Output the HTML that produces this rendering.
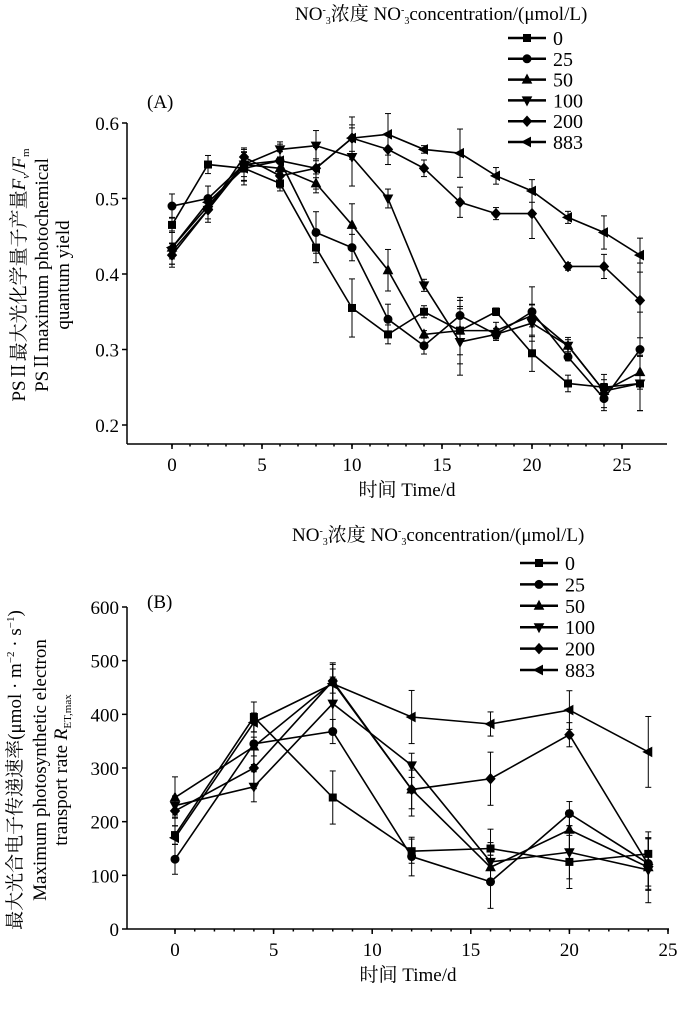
<!DOCTYPE html>
<html><head><meta charset="utf-8"><style>
body{margin:0;background:#fff}
svg text{font-family:"Liberation Serif","Noto Serif CJK SC",serif;fill:#000}
</style></head><body>
<svg id="s" width="700" height="1004" xmlns="http://www.w3.org/2000/svg"></svg>
<script>
// Chart A data
const daysA=[0,2,4,6,8,10,12,14,16,18,20,22,24,26];
const a0=[0.465,0.545,0.54,0.52,0.435,0.355,0.32,0.35,0.325,0.35,0.295,0.255,0.25,0.255];
const a25=[0.49,0.50,0.545,0.55,0.455,0.435,0.34,0.305,0.345,0.32,0.35,0.29,0.235,0.30];
const a50=[0.435,0.49,0.545,0.54,0.52,0.465,0.405,0.32,0.325,0.325,0.345,0.305,0.245,0.27];
const a100=[0.43,0.485,0.545,0.565,0.57,0.555,0.50,0.385,0.31,0.32,0.335,0.305,0.245,0.255];
const a200=[0.425,0.485,0.555,0.53,0.54,0.58,0.565,0.54,0.495,0.48,0.48,0.41,0.41,0.365];
const a883=[0.435,0.495,0.54,0.55,0.54,0.58,0.585,0.565,0.56,0.53,0.51,0.475,0.455,0.425];
const eA=[0.02,0.015,0.02,0.02,0.025,0.035,0.025,0.01,0.04,0.01,0.03,0.01,0.02,0.045];
const ticksAx=[0,5,10,15,20,25];
const ticksAy=[0.2,0.3,0.4,0.5,0.6];
// Chart B data
const daysB=[0,4,8,12,16,20,24];
const b0=[175,395,245,145,150,125,140];
const b25=[130,345,368,135,88,215,122];
const b50=[245,340,460,260,115,185,115];
const b100=[230,265,420,305,125,143,110];
const b200=[220,300,462,260,280,362,120];
const b883=[170,385,457,395,382,408,330];
const eB=[35,35,45,45,45,45,60];
const ticksBx=[0,5,10,15,20,25];
const ticksBy=[0,100,200,300,400,500,600];
const labels=['0','25','50','100','200','883'];
const shapes=['sq','ci','up','dn','di','lt'];

const S=document.getElementById('s');const NS='http://www.w3.org/2000/svg';
function el(t,at,p){const e=document.createElementNS(NS,t);for(const k in at)e.setAttribute(k,at[k]);(p||S).appendChild(e);return e;}
function txt(x,y,s,sz,anc,p){const t=el('text',{x:x,y:y,'font-size':sz,'text-anchor':anc||'start'},p);t.innerHTML=s;return t;}
function marker(g,sh,x,y){
 if(sh==='sq')el('rect',{x:x-3.5,y:y-3.5,width:7,height:7},g);
 else if(sh==='ci')el('circle',{cx:x,cy:y,r:4},g);
 else if(sh==='up')el('polygon',{points:`${x},${y-5} ${x-4.5},${y+3.5} ${x+4.5},${y+3.5}`},g);
 else if(sh==='dn')el('polygon',{points:`${x},${y+5} ${x-4.5},${y-3.5} ${x+4.5},${y-3.5}`},g);
 else if(sh==='di')el('polygon',{points:`${x},${y-5} ${x+4.5},${y} ${x},${y+5} ${x-4.5},${y}`},g);
 else el('polygon',{points:`${x-5},${y} ${x+3.5},${y-4.5} ${x+3.5},${y+4.5}`},g);
}
function chart(name,o){
 const g=el('g',{});
 const X=v=>o.x0+(v-o.xmin)*(o.x1-o.x0)/(o.xmax-o.xmin);
 const Y=v=>o.y0+(v-o.ymin)*(o.y1-o.y0)/(o.ymax-o.ymin);
 const ax=el('g',{stroke:'#000','stroke-width':1.5},g);
 el('line',{x1:o.axL,y1:o.axB,x2:o.axR,y2:o.axB},ax);
 el('line',{x1:o.axL,y1:o.axB,x2:o.axL,y2:o.axT},ax);
 o.tx.forEach(v=>{el('line',{x1:X(v),y1:o.axB,x2:X(v),y2:o.axB+5},ax);txt(X(v),o.axB+27,v,19,'middle',g);});
 for(let v=o.xmin;v<=o.xmax+0.01;v+=1){if(X(v)>o.axL&&X(v)<=o.axR)el('line',{x1:X(v),y1:o.axB,x2:X(v),y2:o.axB+2.5},ax);}
 o.ty.forEach(v=>{el('line',{x1:o.axL,y1:Y(v),x2:o.axL-5,y2:Y(v)},ax);txt(o.axL-8,Y(v)+7,o.fmt(v),19,'end',g);});
 o.series.forEach((d,i)=>{
  const sg=el('g',{fill:'#000',stroke:'#000'},g);
  el('polyline',{points:d.map((v,j)=>X(o.days[j])+','+Y(v)).join(' '),fill:'none','stroke-width':1.6},sg);
  d.forEach((v,j)=>{const e=o.err[j]*(0.5+((i+j)%3)*0.3);const x=X(o.days[j]);
   el('line',{x1:x,y1:Y(v-e),x2:x,y2:Y(v+e),'stroke-width':1},sg);
   el('line',{x1:x-3,y1:Y(v-e),x2:x+3,y2:Y(v-e),'stroke-width':1},sg);
   el('line',{x1:x-3,y1:Y(v+e),x2:x+3,y2:Y(v+e),'stroke-width':1},sg);
   marker(sg,shapes[i],x,Y(v));});
 });
 const lg=el('g',{},g);
 txt(o.lhx,o.lhy,'NO<tspan font-size="10" dy="-7">-</tspan><tspan font-size="10" dy="11">3</tspan><tspan dy="-4">浓度 NO</tspan><tspan font-size="10" dy="-7">-</tspan><tspan font-size="10" dy="11">3</tspan><tspan dy="-4">concentration/(μmol/L)</tspan>',19,'start',lg);
 labels.forEach((l,i)=>{const y=o.ly0+i*o.ldy;
  const eg=el('g',{fill:'#000',stroke:'#000'},lg);
  el('line',{x1:o.lx,y1:y,x2:o.lx+38,y2:y,'stroke-width':2.5},eg);marker(eg,shapes[i],o.lx+19,y);
  const t=txt(o.lx+45,y+7,l,20,'start',lg);});
 txt(o.plx,o.ply,o.panel,19,'start',g);
 txt((o.axL+o.axR)/2+10,o.axB+52,'时间 Time/d',19,'middle',g);
 o.ytitle(g);
}
chart('chart-a',{x0:172,x1:622,xmin:0,xmax:25,y0:425,y1:123,ymin:0.2,ymax:0.6,axL:127,axR:667,axB:444,axT:123,
 tx:ticksAx,ty:ticksAy,fmt:v=>v.toFixed(1),days:daysA,series:[a0,a25,a50,a100,a200,a883],err:eA,
 lhx:295,lhy:20,lx:508,ly0:38,ldy:20.8,plx:147,ply:108,panel:'(A)',
 ytitle:g=>{const t=el('text',{transform:'translate(25,275) rotate(-90)','text-anchor':'middle','font-size':19},g);t.innerHTML='PSⅡ最大光化学量子产量<tspan font-style="italic">F</tspan><tspan font-size="11" font-style="italic" dy="4">v</tspan><tspan dy="-4">/</tspan><tspan font-style="italic">F</tspan><tspan font-size="11" dy="4">m</tspan>';
  txt(0,0,'',1,'start',g);const t2=el('text',{transform:'translate(48,275) rotate(-90)','text-anchor':'middle','font-size':19},g);t2.textContent='PSⅡmaximum photochemical';
  const t3=el('text',{transform:'translate(69,275) rotate(-90)','text-anchor':'middle','font-size':19},g);t3.textContent='quantum yield';}});
chart('chart-b',{x0:175,x1:668,xmin:0,xmax:25,y0:929,y1:607,ymin:0,ymax:600,axL:127,axR:669,axB:929,axT:607,
 tx:ticksBx,ty:ticksBy,fmt:v=>v,days:daysB,series:[b0,b25,b50,b100,b200,b883],err:eB,
 lhx:292,lhy:541,lx:520,ly0:563,ldy:21.4,plx:147,ply:608,panel:'(B)',
 ytitle:g=>{const t=el('text',{transform:'translate(21,770) rotate(-90)','text-anchor':'middle','font-size':19},g);t.innerHTML='最大光合电子传递速率(μmol · m<tspan font-size="11" dy="-7">−2</tspan><tspan dy="7"> · s</tspan><tspan font-size="11" dy="-7">−1</tspan><tspan dy="7">)</tspan>';
  const t2=el('text',{transform:'translate(46,770) rotate(-90)','text-anchor':'middle','font-size':19},g);t2.textContent='Maximum photosynthetic electron';
  const t3=el('text',{transform:'translate(67,770) rotate(-90)','text-anchor':'middle','font-size':19},g);t3.innerHTML='transport rate <tspan font-style="italic">R</tspan><tspan font-size="11" dy="4">ET,max</tspan>';}});
</script>
</body></html>
